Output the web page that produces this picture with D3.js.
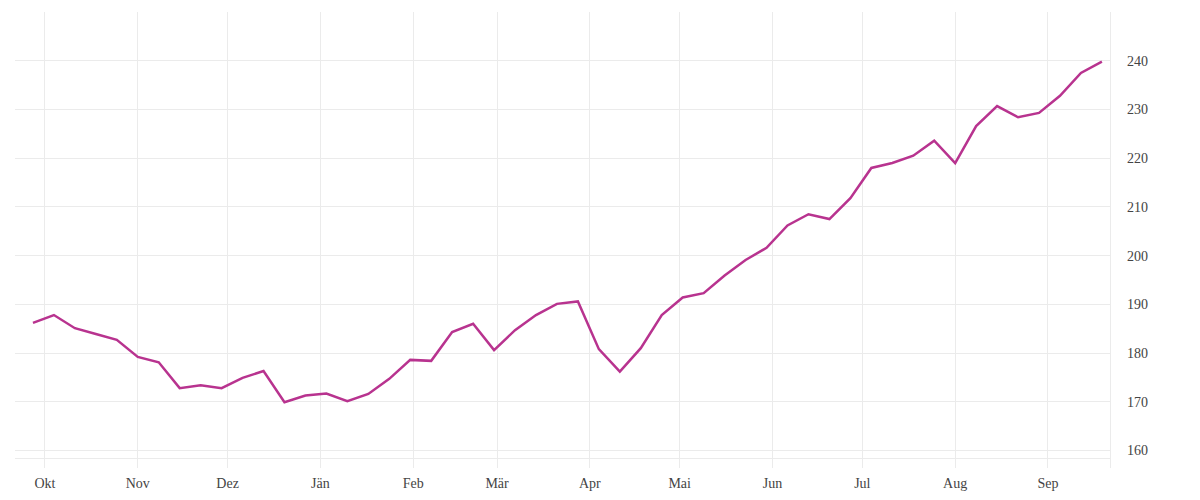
<!DOCTYPE html>
<html>
<head>
<meta charset="utf-8">
<script src="https://cdn.jsdelivr.net/npm/d3@7"></script>
<style>
  html, body { margin: 0; padding: 0; background: #fff; }
  svg { display: block; }
  text { font-family: "Liberation Serif", "DejaVu Serif", serif; fill: #444; }
</style>
</head>
<body>
<svg id="chart" width="1200" height="500"></svg>
<script>
(function () {
// Weekly dates (start of series) and values
const startDate = "2022-09-27";
const values = [
  186.2, 187.8, 185.1, 183.9, 182.7, 179.2, 178.1, 172.8, 173.4, 172.8,
  174.9, 176.3, 169.9, 171.3, 171.7, 170.1, 171.6, 174.7, 178.6, 178.4,
  184.3, 186.0, 180.6, 184.7, 187.8, 190.1, 190.6, 180.8, 176.2, 181.0,
  187.8, 191.4, 192.3, 195.9, 199.1, 201.6, 206.2, 208.5, 207.5, 211.8,
  218.0, 219.0, 220.5, 223.6, 219.0, 226.6, 230.7, 228.4, 229.3, 232.8,
  237.5, 239.8
];
const monthTickDates = ["2022-10-01","2022-11-01","2022-12-01","2023-01-01","2023-02-01","2023-03-01",
  "2023-04-01","2023-05-01","2023-06-01","2023-07-01","2023-08-01","2023-09-01"];
const monthLabels = ["Okt","Nov","Dez","Jän","Feb","Mär","Apr","Mai","Jun","Jul","Aug","Sep"];
const yTicks = [160, 170, 180, 190, 200, 210, 220, 230, 240];
const xDomain = ["2022-09-21T00:00", "2023-09-21T17:00"];
const yDomain = [158.4, 250];

const parse = d3.isoParse;
const start = parse(startDate);
const data = values.map((v, i) => ({ date: d3.timeDay.offset(start, i * 7), value: v }));

const svg = d3.select("#chart");
const mLeft = 15, mRight = 1110, mTop = 12, mBottom = 458.3;

const x = d3.scaleTime().domain(xDomain.map(parse)).range([mLeft, mRight]);
const y = d3.scaleLinear().domain(yDomain).range([mBottom, mTop]);

const gridColor = "#ebebeb";

// horizontal gridlines
svg.append("g").selectAll("line").data(yTicks).join("line")
  .attr("x1", mLeft).attr("x2", mRight)
  .attr("y1", d => y(d)).attr("y2", d => y(d))
  .attr("stroke", gridColor).attr("stroke-width", 1).attr("shape-rendering", "crispEdges");
// bottom border
svg.append("line").attr("x1", mLeft).attr("x2", mRight).attr("y1", mBottom).attr("y2", mBottom)
  .attr("stroke", gridColor).attr("shape-rendering", "crispEdges");

// vertical gridlines (extending below as ticks)
const mDates = monthTickDates.map(parse);
svg.append("g").selectAll("line").data(mDates).join("line")
  .attr("x1", d => x(d)).attr("x2", d => x(d))
  .attr("y1", mTop).attr("y2", mBottom + 10)
  .attr("stroke", gridColor).attr("stroke-width", 1).attr("shape-rendering", "crispEdges");
// right border
svg.append("line").attr("x1", mRight).attr("x2", mRight).attr("y1", mTop).attr("y2", mBottom + 10)
  .attr("stroke", gridColor).attr("shape-rendering", "crispEdges");

// x labels
svg.append("g").selectAll("text").data(mDates).join("text")
  .attr("x", d => x(d)).attr("y", 488)
  .attr("text-anchor", "middle").attr("font-size", 14)
  .text((d, i) => monthLabels[i]);

// y labels
svg.append("g").selectAll("text").data(yTicks).join("text")
  .attr("x", 1127).attr("y", d => y(d)).attr("dy", "0.35em")
  .attr("text-anchor", "start").attr("font-size", 14)
  .text(d => d);

// line
const line = d3.line().x(d => x(d.date)).y(d => y(d.value));
svg.append("path").datum(data)
  .attr("d", line)
  .attr("fill", "none")
  .attr("stroke", "#b8338f")
  .attr("stroke-width", 2.5)
  .attr("stroke-linejoin", "miter");
})();
</script>
</body>
</html>
